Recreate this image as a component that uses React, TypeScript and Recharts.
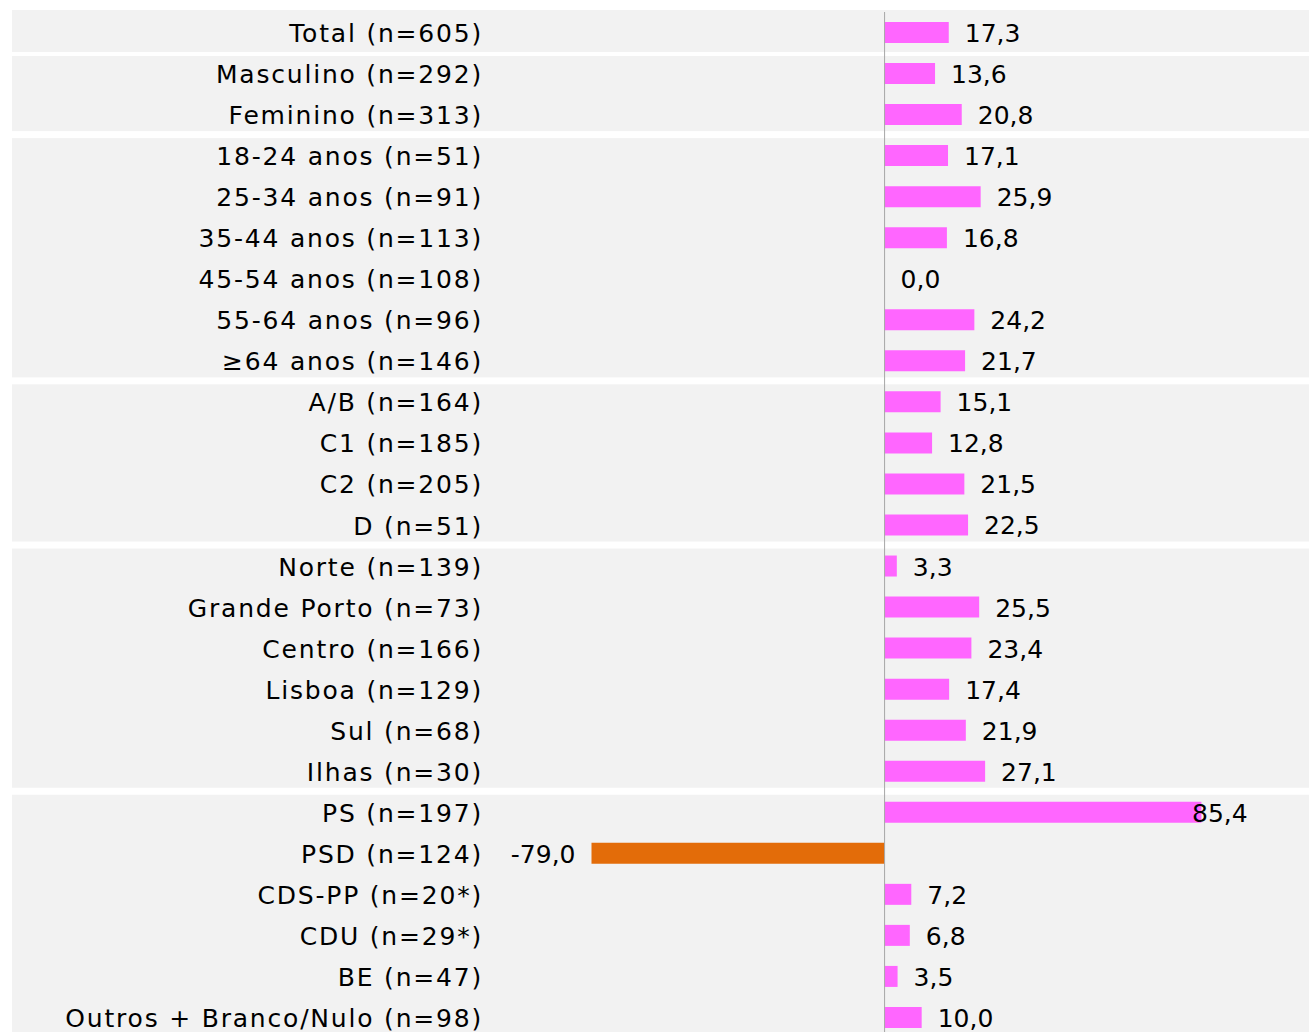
import React from 'react';
import { BarChart, Bar, XAxis, YAxis, Cell, LabelList, ReferenceArea, ReferenceLine } from 'recharts';

const categories = [
  'Total (n=605)',
  'Masculino (n=292)',
  'Feminino (n=313)',
  '18-24 anos (n=51)',
  '25-34 anos (n=91)',
  '35-44 anos (n=113)',
  '45-54 anos (n=108)',
  '55-64 anos (n=96)',
  '≥64 anos (n=146)',
  'A/B (n=164)',
  'C1 (n=185)',
  'C2 (n=205)',
  'D (n=51)',
  'Norte (n=139)',
  'Grande Porto (n=73)',
  'Centro (n=166)',
  'Lisboa (n=129)',
  'Sul (n=68)',
  'Ilhas (n=30)',
  'PS (n=197)',
  'PSD (n=124)',
  'CDS-PP (n=20*)',
  'CDU (n=29*)',
  'BE (n=47)',
  'Outros + Branco/Nulo (n=98)',
];

const values = [
  17.3, 13.6, 20.8, 17.1, 25.9, 16.8, 0.0, 24.2, 21.7, 15.1, 12.8, 21.5, 22.5,
  3.3, 25.5, 23.4, 17.4, 21.9, 27.1, 85.4, -79.0, 7.2, 6.8, 3.5, 10.0,
];

// first and last category of each shaded group
const groupStart = ['Total (n=605)', 'Masculino (n=292)', '18-24 anos (n=51)', 'A/B (n=164)', 'Norte (n=139)', 'PS (n=197)'];
const groupEnd = ['Total (n=605)', 'Feminino (n=313)', '≥64 anos (n=146)', 'D (n=51)', 'Ilhas (n=30)', 'Outros + Branco/Nulo (n=98)'];

const data = categories.map((name, i) => ({ name, value: values[i] }));

const POS = '#FF66FF';
const NEG = '#E36C09';
const FONT = '"DejaVu Sans", sans-serif';
const LABEL_RIGHT = 483;
const VALUE_MAX_RIGHT = 1248;

const fmt = (v: number) => v.toFixed(1).replace('.', ',');

function CategoryTick(props: any) {
  const { y, payload } = props;
  return (
    <text
      x={LABEL_RIGHT}
      y={y + 1}
      textAnchor="end"
      dominantBaseline="central"
      fontFamily={FONT}
      fontSize={25}
      letterSpacing={1.8}
      fill="#000"
    >
      {payload.value}
    </text>
  );
}

function ValueLabel(props: any) {
  const { x, y, width, height, value } = props;
  const end = x + width;
  const cy = y + height / 2 + 1;
  const txt = fmt(Number(value));
  if (value < 0) {
    return (
      <text x={end - 16} y={cy} textAnchor="end" dominantBaseline="central" fontFamily={FONT} fontSize={25} fill="#000">
        {txt}
      </text>
    );
  }
  const w = txt.length * 14;
  const tx = Math.min(end + 16, VALUE_MAX_RIGHT - w);
  return (
    <text x={tx} y={cy} textAnchor="start" dominantBaseline="central" fontFamily={FONT} fontSize={25} fill="#000">
      {txt}
    </text>
  );
}

function bandShape(first: boolean) {
  return (p: any) => (
    <rect
      x={p.x}
      y={p.y + (first ? -2 : 3)}
      width={p.width}
      height={p.height - (first ? -1 : 7)}
      fill="#F2F2F2"
    />
  );
}

export default function App() {
  return (
    <div style={{ position: 'fixed', left: 0, top: 0, width: 1309, height: 1032, overflow: 'hidden', background: '#fff' }}>
      <BarChart
        layout="vertical"
        width={1309}
        height={1040}
        data={data}
        margin={{ top: 12, right: 0, bottom: 2, left: 11 }}
        barSize={21}
      >
        {groupStart.map((s, i) => (
          <ReferenceArea key={s} y1={s} y2={groupEnd[i]} ifOverflow="visible" shape={bandShape(i === 0)} />
        ))}
        <XAxis type="number" domain={[-235.2, 114.4]} allowDataOverflow hide />
        <YAxis
          type="category"
          dataKey="name"
          width={1}
          axisLine={false}
          tickLine={false}
          tickSize={0}
          tickMargin={0}
          interval={0}
          tick={(p: any) => <CategoryTick {...p} />}
        />
        <ReferenceLine x={0} stroke="#A6A6A6" strokeWidth={1} ifOverflow="visible" />
        <Bar dataKey="value" isAnimationActive={false} minPointSize={0.01}>
          {data.map((d) => (
            <Cell key={d.name} fill={d.value < 0 ? NEG : POS} />
          ))}
          <LabelList dataKey="value" content={<ValueLabel />} />
        </Bar>
      </BarChart>
    </div>
  );
}
